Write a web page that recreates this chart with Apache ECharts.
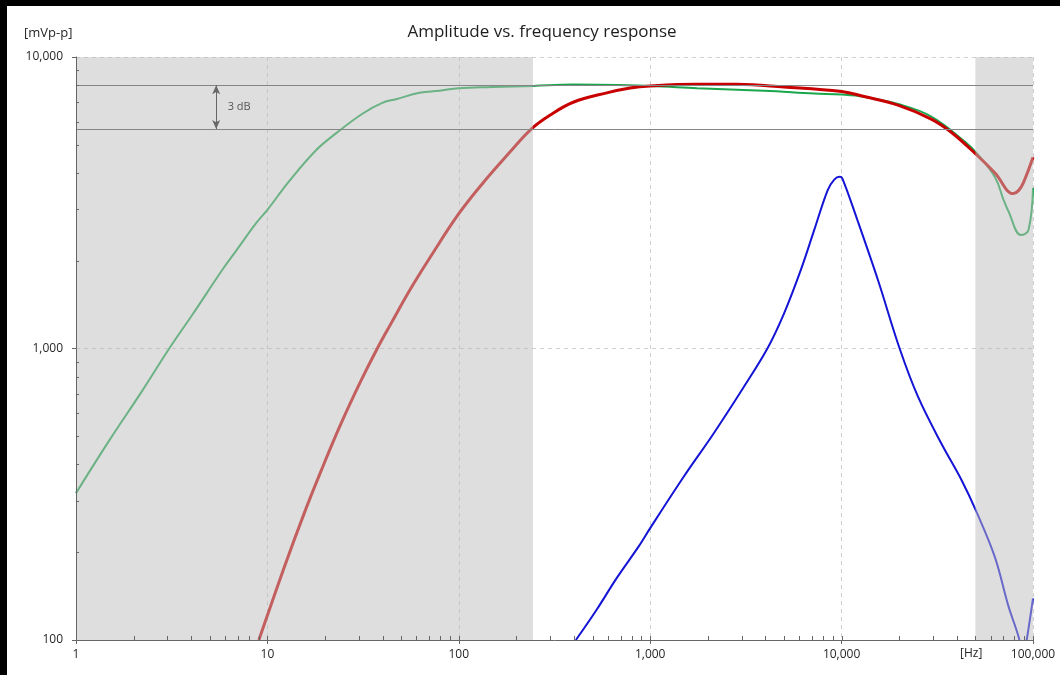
<!DOCTYPE html>
<html><head><meta charset="utf-8">
<script src="https://cdn.jsdelivr.net/npm/echarts@6/dist/echarts.min.js"></script>
<style>
html,body{margin:0;padding:0;background:#000;width:1060px;height:675px;overflow:hidden}
#c{position:absolute;left:7px;top:6px;width:1053px;height:669px;background:#fff}
</style></head><body><div id="c"></div>
<script>
// ---- data (frequency in Hz, amplitude in mVp-p) ----
const greenFreq = [1,1.49,2.23,3.07,4.07,5.84,6.86,8.73,10,13,17.9,22.9,31.5,40.1,47,62.3,79.2,99.6,150,244,396,1000,1757,3927,7194,10000,13100,19700,29400,44000,51600,63300,70000,74300,86600,94600,100000];
const greenVal  = [319,483,720,1000,1310,1870,2163,2690,2990,3750,4780,5480,6400,6970,7165,7540,7660,7815,7890,7960,8040,7955,7815,7660,7497,7430,7300,6900,6250,5125,4620,3870,3250,2964,2450,2545,3556];
const redFreq = [9.02,12.3,15.6,19.1,24.2,30.7,37.5,44,55.9,71,100,134,185,239,299,396,593,786,1000,1757,2850,5000,10000,13100,19700,29400,37400,50700,63300,78900,84000,89000,100000];
const redVal  = [100,179,273,381,551,771,1000,1210,1600,2060,2900,3705,4720,5657,6310,6995,7535,7830,7955,8056,8056,7890,7608,7320,6840,6125,5520,4620,4000,3400,3480,3700,4530];
const blueFreq = [409,525,668,869,1000,1496,2149,3088,4095,5000,6118,7190,8450,9155,9770,10100,12100,15500,20100,25100,33200,42300,50700,63300,74300,84600,88500,92700,100000];
const blueVal  = [100,127,163,209,242,363,512,739,1000,1318,1857,2547,3490,3796,3880,3828,2754,1714,1000,682,472,354,275,192,131,101,85,100,139];
// reference levels and shaded bands
const refLevels = [8000, 5657];
const bandLow = [1, 244];
const bandHigh = [50000, 100000];
const arrowFreq = 5.4;
const xDecades = [1,10,100,1000,10000,100000];
const yDecades = [100,1000,10000];
const minorMult = [2,3,4,5,6,7,8,9];

const pairs = (f, v) => f.map((x, i) => [x, v[i]]);
const fmt = v => Math.round(v).toLocaleString('en-US');
const xMinor = [];
xDecades.slice(0, -1).forEach(d => minorMult.forEach(m => xMinor.push(d * m)));
const yMinor = [];
yDecades.slice(0, -1).forEach(d => minorMult.forEach(m => yMinor.push(d * m)));

const FONT = '"Open Sans", "Noto Sans", sans-serif';
const TXT = '#262626';
const chart = echarts.init(document.getElementById('c'), null, {renderer: 'canvas'});
const grid = {left: 69, top: 51, right: 27, bottom: 35};
const xBase = {type: 'log', logBase: 10, min: 1, max: 100000, splitNumber: 5};
const yBase = {type: 'log', logBase: 10, min: 100, max: 10000, splitNumber: 2};

chart.setOption({
  animation: false,
  backgroundColor: '#fff',
  title: {
    text: 'Amplitude vs. frequency response',
    left: 535, top: 18, textAlign: 'center', padding: 0,
    textStyle: {fontFamily: FONT, fontSize: 17, fontWeight: 'normal', color: '#1e1e1e'}
  },
  grid: grid,
  xAxis: [
    Object.assign({}, xBase, {
      z: 0, axisLine: {show: false}, axisTick: {show: false}, axisLabel: {show: false},
      splitLine: {show: true, lineStyle: {color: '#cfcfcf', type: [4, 4], width: 1}}
    }),
    Object.assign({}, xBase, {
      z: 10, position: 'bottom',
      axisLine: {show: true, lineStyle: {color: '#666', width: 1}},
      axisTick: {show: true, length: 4, lineStyle: {color: '#666'}},
      axisLabel: {show: true, margin: 9, formatter: fmt, color: TXT, fontSize: 12, fontFamily: FONT},
      splitLine: {show: false}
    })
  ],
  yAxis: [
    Object.assign({}, yBase, {
      z: 0, axisLine: {show: false}, axisTick: {show: false}, axisLabel: {show: false},
      splitLine: {show: true, lineStyle: {color: '#cfcfcf', type: [4, 4], width: 1}}
    }),
    Object.assign({}, yBase, {
      z: 10, position: 'left',
      axisLine: {show: true, lineStyle: {color: '#666', width: 1}},
      axisTick: {show: true, length: 4, lineStyle: {color: '#666'}},
      axisLabel: {show: true, margin: 13, formatter: fmt, color: TXT, fontSize: 12, fontFamily: FONT},
      splitLine: {show: false}
    })
  ],
  graphic: [
    {type: 'text', left: 17, top: 21, z: 20, style: {text: '[mVp-p]', font: '13px ' + FONT, fill: TXT}},
    {type: 'text', left: 953, top: 642, z: 20, style: {text: '[Hz]', font: '12px ' + FONT, fill: TXT}}
  ],
  series: [
    {
      name: 'green', type: 'line', xAxisIndex: 0, yAxisIndex: 0, z: 2,
      data: pairs(greenFreq, greenVal), smooth: 0.4, symbol: 'none',
      lineStyle: {color: '#19a64c', width: 2}
    },
    {
      name: 'red', type: 'line', xAxisIndex: 0, yAxisIndex: 0, z: 2,
      data: pairs(redFreq, redVal), smooth: 0.4, symbol: 'none',
      lineStyle: {color: '#c80000', width: 3}
    },
    {
      name: 'blue', type: 'line', xAxisIndex: 0, yAxisIndex: 0, z: 2,
      data: pairs(blueFreq, blueVal), smooth: 0.35, symbol: 'none',
      lineStyle: {color: '#1414d6', width: 2}
    },
    {
      name: 'ref', type: 'line', xAxisIndex: 0, yAxisIndex: 0, data: [], silent: true,
      markArea: {
        silent: true, z: 3,
        itemStyle: {color: 'rgba(190,190,190,0.5)'},
        data: [
          [{xAxis: bandLow[0]}, {xAxis: bandLow[1]}],
          [{xAxis: bandHigh[0]}, {xAxis: bandHigh[1]}]
        ]
      },
      markLine: {
        silent: true, z: 5, symbol: 'none', animation: false,
        label: {show: false},
        lineStyle: {color: '#858585', width: 1, type: 'solid'},
        data: [
          {yAxis: refLevels[0]},
          {yAxis: refLevels[1]},
          [
            {coord: [arrowFreq, refLevels[0]], symbol: 'arrow', symbolSize: [6, 9], lineStyle: {color: '#666', type: 'solid'}},
            {coord: [arrowFreq, refLevels[1]], symbol: 'arrow', symbolSize: [6, 9]}
          ]
        ]
      },
      markPoint: {
        silent: true, z: 5, symbol: 'circle', symbolSize: 1,
        itemStyle: {color: 'rgba(0,0,0,0)'},
        label: {show: true, position: 'right', distance: 11, formatter: '3 dB', color: '#555', fontSize: 11, fontFamily: FONT},
        data: [{coord: [arrowFreq, Math.sqrt(refLevels[0] * refLevels[1])]}]
      }
    },
    {
      name: 'xMinorTicks', type: 'custom', xAxisIndex: 0, yAxisIndex: 0, z: 20, silent: true, clip: false,
      data: xMinor.concat(xDecades).map(v => [v]),
      renderItem: function (params, api) {
        const p = api.coord([api.value(0), 100]);
        const x = Math.round(p[0]) + 0.5;
        return {type: 'line', shape: {x1: x, y1: p[1], x2: x, y2: p[1] - 4}, style: {stroke: '#666', lineWidth: 1}};
      }
    },
    {
      name: 'yMinorTicks', type: 'custom', xAxisIndex: 0, yAxisIndex: 0, z: 20, silent: true, clip: false,
      data: yMinor.map(v => [1, v]),
      renderItem: function (params, api) {
        const p = api.coord([1, api.value(1)]);
        const y = Math.round(p[1]) + 0.5;
        return {type: 'line', shape: {x1: p[0], y1: y, x2: p[0] + 3, y2: y}, style: {stroke: '#666', lineWidth: 1}};
      }
    }
  ]
});
</script></body></html>
